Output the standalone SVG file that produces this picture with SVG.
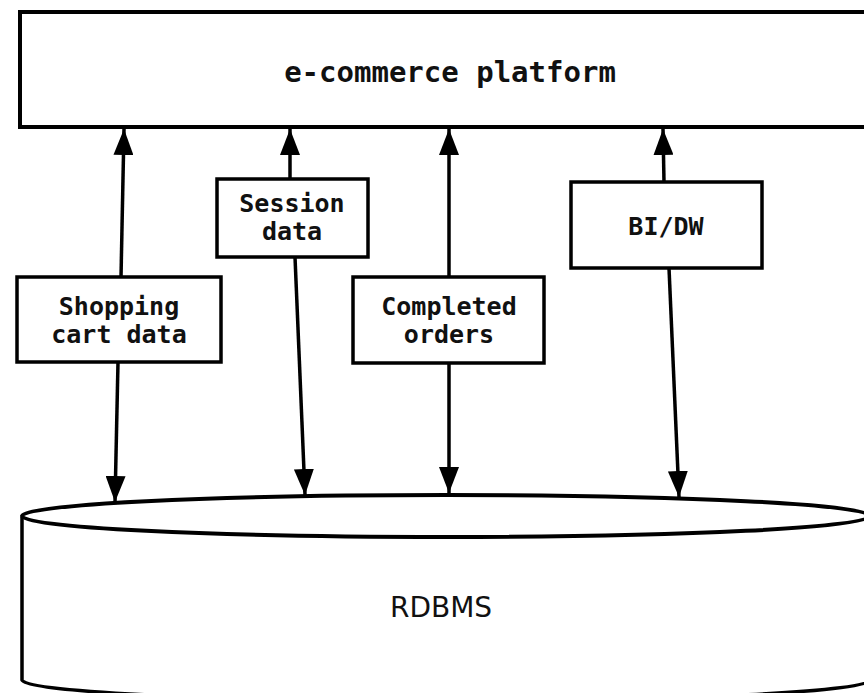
<svg xmlns="http://www.w3.org/2000/svg" width="864" height="693" viewBox="0 0 864 693">
<defs>
<style>
.box{fill:#fff;stroke:#000;stroke-width:3.5}
.lbl{font-family:"DejaVu Sans Mono","Liberation Mono",monospace;font-weight:bold;font-size:25px;text-anchor:middle;fill:#111}
.conn{stroke:#000;stroke-width:3.5;fill:none}
</style>
<marker id="ah" viewBox="0 0 26 20" refX="26" refY="10" markerWidth="26" markerHeight="20" markerUnits="userSpaceOnUse" orient="auto">
<path d="M0,0 L26,10 L0,20 z" fill="#000"/>
</marker>
</defs>
<rect width="864" height="693" fill="#fff"/>
<g id="connectors">
<line class="conn" x1="121" y1="277" x2="124" y2="129" marker-end="url(#ah)"/>
<line class="conn" x1="118" y1="362" x2="115" y2="502" marker-end="url(#ah)"/>
<line class="conn" x1="290" y1="179" x2="290" y2="129" marker-end="url(#ah)"/>
<line class="conn" x1="295" y1="257" x2="305" y2="495" marker-end="url(#ah)"/>
<line class="conn" x1="449" y1="277" x2="449" y2="129" marker-end="url(#ah)"/>
<line class="conn" x1="449" y1="363" x2="449" y2="493" marker-end="url(#ah)"/>
<line class="conn" x1="664" y1="182" x2="663" y2="129" marker-end="url(#ah)"/>
<line class="conn" x1="669" y1="268" x2="679" y2="497" marker-end="url(#ah)"/>
</g>
<g id="platform">
<rect x="20" y="12" width="860" height="115" fill="#fff" stroke="#000" stroke-width="4"/>
<text class="lbl" x="450" y="82" style="font-size:29px">e-commerce platform</text>
</g>
<g id="shopping">
<rect class="box" x="17" y="277" width="204" height="85"/>
<text class="lbl" x="119" y="315">Shopping</text>
<text class="lbl" x="119" y="343">cart data</text>
</g>
<g id="session">
<rect class="box" x="217" y="179" width="151" height="78"/>
<text class="lbl" x="292" y="212">Session</text>
<text class="lbl" x="292" y="240">data</text>
</g>
<g id="completed">
<rect class="box" x="353" y="277" width="191" height="86"/>
<text class="lbl" x="449" y="315">Completed</text>
<text class="lbl" x="449" y="343">orders</text>
</g>
<g id="bidw">
<rect class="box" x="571" y="182" width="191" height="86"/>
<text class="lbl" x="666" y="235">BI/DW</text>
</g>
<g id="rdbms">
<path d="M22,517 L22,680 A424,21 0 0 0 870,680 L870,517" fill="#fff" stroke="#000" stroke-width="3.5"/>
<ellipse cx="446" cy="516" rx="424" ry="21" fill="#fff" stroke="#000" stroke-width="4"/>
<text x="441" y="617" font-family="DejaVu Sans, sans-serif" font-size="28" text-anchor="middle" fill="#111">RDBMS</text>
</g>
</svg>
